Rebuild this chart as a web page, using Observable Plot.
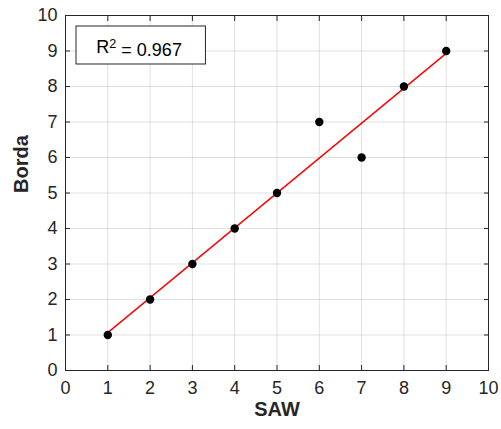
<!DOCTYPE html>
<html>
<head>
<meta charset="utf-8">
<script src="https://cdn.jsdelivr.net/npm/d3@7"></script>
<script src="https://cdn.jsdelivr.net/npm/@observablehq/plot@0.6"></script>
<style>
  html, body { margin: 0; padding: 0; background: #fff; }
  #chart { width: 501px; height: 429px; }
</style>
</head>
<body>
<div id="chart"></div>
<script>
// Data
const saw   = [1, 2, 3, 4, 5, 6, 7, 8, 9];
const borda = [1, 2, 3, 4, 5, 7, 6, 8, 9];
const tickValues = [0, 1, 2, 3, 4, 5, 6, 7, 8, 9, 10];
const rSquaredLabel = "0.967";
const xLabel = "SAW";
const yLabel = "Borda";

const points = saw.map((x, i) => ({x, y: borda[i]}));
const axisColor = "#262626";
const tickFont = 18;

const plot = Plot.plot({
  width: 501,
  height: 429,
  marginLeft: 65,
  marginRight: 13,
  marginTop: 15,
  marginBottom: 59,
  style: {fontFamily: "Liberation Sans, Arial, sans-serif", fontSize: tickFont + "px", color: axisColor, background: "#fff"},
  x: {domain: [0, 10], ticks: tickValues},
  y: {domain: [0, 10], ticks: tickValues},
  marks: [
    Plot.gridX(tickValues, {stroke: "#000", strokeOpacity: 0.12}),
    Plot.gridY(tickValues, {stroke: "#000", strokeOpacity: 0.12}),
    // tick labels
    Plot.axisX(tickValues, {tickSize: 0, tickPadding: 11, label: null, fontSize: tickFont}),
    Plot.axisY(tickValues, {tickSize: 0, tickPadding: 8, label: null, fontSize: tickFont}),
    // inward ticks on all four sides
    Plot.axisX(tickValues, {anchor: "bottom", tickSize: -5, fill: "none", label: null}),
    Plot.axisX(tickValues, {anchor: "top", tickSize: -5, fill: "none", label: null}),
    Plot.axisY(tickValues, {anchor: "left", tickSize: -5, fill: "none", label: null}),
    Plot.axisY(tickValues, {anchor: "right", tickSize: -5, fill: "none", label: null}),
    Plot.frame({stroke: axisColor, strokeWidth: 1}),
    Plot.linearRegressionY(points, {x: "x", y: "y", ci: 0, stroke: "#ff0000", strokeWidth: 1.4}),
    Plot.dot(points, {x: "x", y: "y", r: 4.2, fill: "#000", stroke: "none"}),
    // R² annotation
    Plot.rect([0], {x1: 0.26, x2: 3.32, y1: 8.62, y2: 9.69, fill: "#fff", stroke: axisColor, strokeWidth: 1}),
    Plot.text([`R2 = ${rSquaredLabel}`], {x: 1.74, y: 9.1, fontSize: tickFont, fill: "#000", className: "r2label"}),
    // axis titles
    Plot.text([xLabel], {frameAnchor: "bottom", dy: 45, fontSize: 20, fontWeight: "bold", fill: axisColor}),
    Plot.text([yLabel], {frameAnchor: "left", dx: -44, rotate: -90, fontSize: 20, fontWeight: "bold", fill: axisColor})
  ]
});

document.getElementById("chart").appendChild(plot);

// superscript the 2 in R2
d3.select(plot).selectAll("g.r2label text").each(function () {
  const t = d3.select(this);
  t.text("");
  t.append("tspan").text("R");
  t.append("tspan").attr("dy", "-0.45em").attr("font-size", "0.7em").text("2");
  t.append("tspan").attr("dy", "0.45em").text(` = ${rSquaredLabel}`);
});
</script>
</body>
</html>
